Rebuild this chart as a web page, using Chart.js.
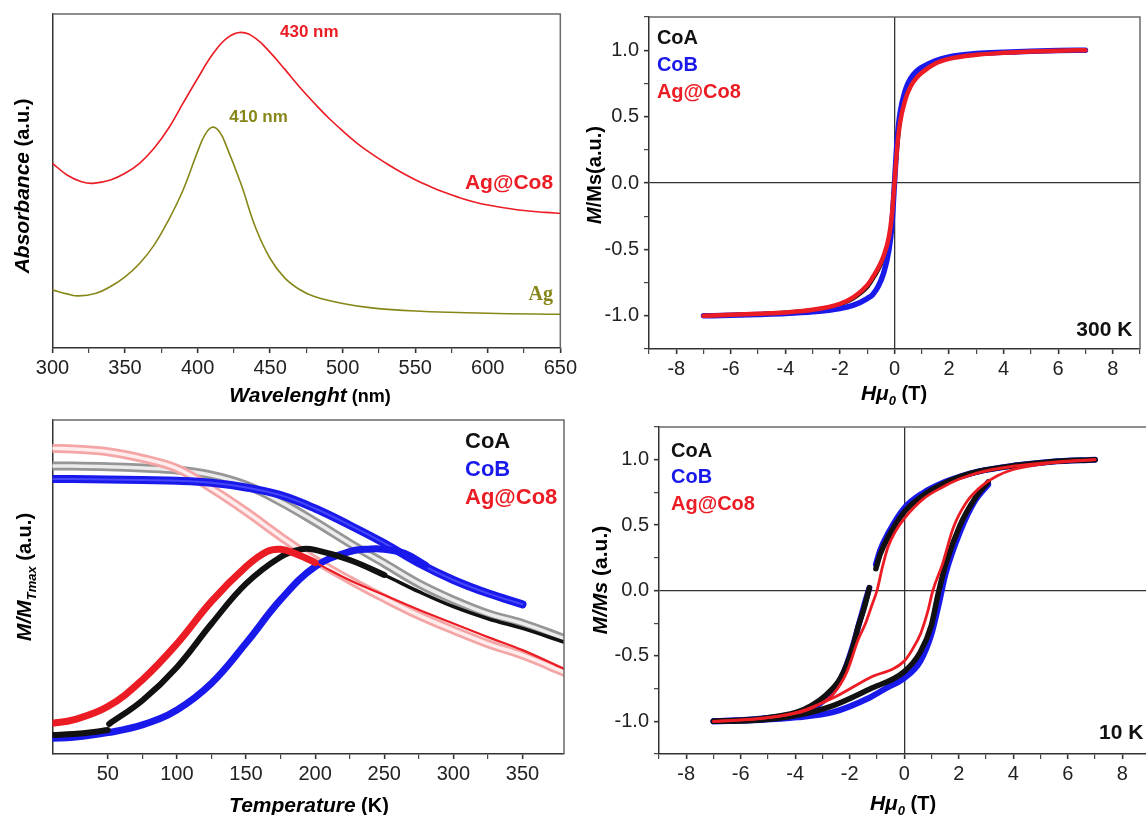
<!DOCTYPE html>
<html><head><meta charset="utf-8">
<script src="https://cdn.jsdelivr.net/npm/chart.js@4.4.1/dist/chart.umd.min.js"></script>
<style>
html,body{margin:0;padding:0;background:#fff;overflow:hidden;width:1146px;height:815px;position:relative;}
.p{position:absolute;}
canvas{display:block;}
</style></head><body>
<div class="p" style="left:0;top:0;width:580px;height:410px"><canvas id="c1" width="580" height="410"></canvas></div>
<div class="p" style="left:580px;top:0;width:566px;height:410px"><canvas id="c2" width="566" height="410"></canvas></div>
<div class="p" style="left:0;top:410px;width:580px;height:405px"><canvas id="c3" width="580" height="405"></canvas></div>
<div class="p" style="left:580px;top:410px;width:580px;height:405px"><canvas id="c4" width="580" height="405"></canvas></div>
<script>
// ================= DATA =================
// Panel 1: UV-Vis absorbance (arbitrary units)
const wlAgCo8 = [300,310,320,328,340,350,360,370,380,390,400,410,420,430,440,450,460,470,480,490,500,510,520,530,540,550,560,570,580,590,600,620,640,650];
const absAgCo8 = [0.553,0.518,0.498,0.493,0.503,0.523,0.553,0.598,0.658,0.733,0.807,0.877,0.927,0.945,0.927,0.885,0.835,0.783,0.735,0.69,0.65,0.613,0.581,0.553,0.527,0.504,0.484,0.466,0.451,0.438,0.428,0.414,0.406,0.403];
const wlAg = [300,310,318,330,340,350,360,370,380,390,400,405,410,415,420,430,440,450,460,470,480,500,520,550,600,650];
const absAg = [0.174,0.162,0.156,0.164,0.184,0.213,0.253,0.308,0.383,0.473,0.588,0.638,0.661,0.648,0.603,0.49,0.36,0.268,0.21,0.176,0.155,0.133,0.12,0.111,0.104,0.101];

// Panel 2: M/Ms vs field at 300 K
const h300 = [-7,-6,-5,-4,-3,-2,-1.5,-1,-0.8,-0.6,-0.4,-0.2,-0.1,0,0.1,0.2,0.4,0.6,0.8,1,1.5,2,3,4,5,6,7];
const m300AgCo8 = [-1.0,-0.993,-0.985,-0.975,-0.955,-0.91,-0.86,-0.77,-0.71,-0.64,-0.55,-0.4,-0.25,0,0.27,0.45,0.63,0.73,0.79,0.83,0.9,0.935,0.965,0.98,0.99,0.996,1.0];
const m300CoB = [-1.0,-0.996,-0.99,-0.983,-0.97,-0.945,-0.92,-0.87,-0.84,-0.78,-0.68,-0.5,-0.33,0,0.33,0.52,0.7,0.79,0.84,0.87,0.92,0.95,0.975,0.985,0.992,0.997,1.0];
const m300CoA = [-1.0,-0.994,-0.986,-0.976,-0.957,-0.915,-0.868,-0.785,-0.725,-0.655,-0.565,-0.42,-0.27,0,0.28,0.47,0.65,0.75,0.805,0.845,0.905,0.94,0.968,0.981,0.991,0.996,1.0];

// Panel 3: ZFC / FC magnetisation vs temperature (normalised, a.u.)
const tFC = [10,25,50,75,100,125,150,175,200,225,250,275,300,325,350,380];
const fcAgCo8 = [0.915,0.913,0.905,0.885,0.855,0.795,0.726,0.651,0.581,0.521,0.466,0.415,0.371,0.33,0.296,0.245];
const fcCoA = [0.862,0.862,0.860,0.856,0.850,0.835,0.805,0.755,0.695,0.631,0.571,0.51,0.461,0.42,0.391,0.346];
const tFCCoB = [10,25,50,75,100,125,150,175,200,225,250,275,300,325,350];
const fcCoB = [0.823,0.823,0.822,0.820,0.818,0.812,0.798,0.775,0.735,0.685,0.631,0.571,0.521,0.481,0.448];
const tZfcAgCo8 = [10,25,50,75,100,125,150,165,175,185,200,225,250,275,300,325,350,380];
const zfcAgCo8 = [0.092,0.102,0.142,0.222,0.33,0.457,0.561,0.606,0.613,0.601,0.573,0.52,0.476,0.432,0.391,0.35,0.311,0.255];
const tZfcCoA1 = [10,25,40,50];
const zfcCoA1 = [0.057,0.06,0.066,0.072];
const tZfcCoA2 = [51,75,100,125,150,175,190,200,225,250,275,300,325,350,380];
const zfcCoA2 = [0.09,0.16,0.26,0.39,0.51,0.59,0.613,0.611,0.581,0.536,0.486,0.441,0.405,0.376,0.335];
const tZfcCoB = [10,25,50,75,100,125,150,175,200,225,240,250,265,280];
const zfcCoB = [0.047,0.05,0.064,0.087,0.132,0.212,0.332,0.462,0.561,0.606,0.614,0.613,0.6,0.565];

// Panel 4: hysteresis loops at 10 K (branches listed with increasing field)
const hRedUp = [-7,-5.4,-4,-3.3,-2.6,-2.1,-1.7,-1.4,-1.2,-1.0,-0.8,-0.6,-0.3,0,0.7,1.4,2.0,2.7,4.0,5.4,7];
const mRedUp = [-1.0,-0.98,-0.94,-0.89,-0.79,-0.62,-0.38,-0.24,-0.12,0.0,0.18,0.33,0.46,0.55,0.70,0.79,0.85,0.9,0.95,0.98,1.0];
const hRedLow = [-7,-6.3,-5.3,-3.9,-2.6,-1.3,0,0.3,0.6,0.85,1.05,1.4,1.8,2.3,2.85,3.4,4.0,5.4,7];
const mRedLow = [-1.0,-0.995,-0.98,-0.93,-0.82,-0.67,-0.54,-0.45,-0.33,-0.17,0.0,0.2,0.48,0.68,0.8,0.875,0.925,0.975,1.0];
const hCoAUpA = [-1.04,-0.88,-0.61,0,0.72,1.38,2.05,2.72,4.05,5.4,7];
const mCoAUpA = [0.167,0.28,0.40,0.6,0.73,0.81,0.87,0.91,0.955,0.985,1.0];
const hCoAUpB = [-7,-5.27,-3.94,-3.41,-2.88,-2.34,-1.94,-1.68,-1.48,-1.28];
const mCoAUpB = [-1.0,-0.98,-0.93,-0.88,-0.8,-0.67,-0.47,-0.27,-0.14,0.02];
const hCoALow = [-7,-5.27,-3.94,-2.61,-1.28,0,0.59,0.99,1.25,1.52,2.05,2.58,3.08];
const mCoALow = [-1.0,-0.99,-0.955,-0.88,-0.755,-0.62,-0.47,-0.27,-0.02,0.2,0.5,0.7,0.83];
const hCoBUpA = [-1.04,-0.88,-0.61,0,0.72,1.38,2.05,2.72,4.05,5.4,7];
const mCoBUpA = [0.2,0.31,0.43,0.63,0.75,0.82,0.87,0.91,0.955,0.985,1.0];
const hCoBUpB = [-7,-5.3,-3.67,-3.14,-2.61,-2.21,-1.88,-1.68,-1.48,-1.28];
const mCoBUpB = [-1.0,-0.98,-0.93,-0.87,-0.77,-0.62,-0.42,-0.27,-0.12,0.02];
const hCoBLow = [-7,-5.3,-3.94,-2.61,-1.28,-0.61,0,0.59,0.99,1.25,1.52,2.05,2.58,3.08];
const mCoBLow = [-1.0,-0.99,-0.97,-0.93,-0.82,-0.74,-0.67,-0.54,-0.34,-0.12,0.13,0.45,0.68,0.81];

// Text
const legendNames = ['CoA','CoB','Ag@Co8'];
const uvLabels = ['430 nm','410 nm','Ag@Co8','Ag'];
const tempLabels = ['300 K','10 K'];
const p1XTitle = ['Wavelenght',' (nm)'];
const p1YTitle = ['Absorbance',' (a.u.)'];
const hTitle = ['H','\u03bc','0',' (T)'];
const p2YTitle = ['M','/Ms(a.u.)'];
const p3XTitle = ['Temperature',' (K)'];
const p3YTitle = ['M/M','Tmax',' (a.u.)'];
const p4YTitle = ['M/Ms',' (a.u.)'];

// ================= STYLE / HELPERS =================
const FONT = "'Liberation Sans', Arial, Helvetica, sans-serif";
const SERIF = "'Liberation Serif', 'Times New Roman', serif";
const RED = 'rgb(236,28,36)', BLUE = 'rgb(25,25,235)', BLACK = '#111', OLIVE = 'rgb(135,135,25)';
const SMOOTH = {cubicInterpolationMode:'default', tension:0.4};

function pts(xs, ys){ return xs.map((x,i)=>({x:x, y:ys[i]})); }
function line(xs, ys, color, width, extra){
  return Object.assign({data:pts(xs,ys), borderColor:color, borderWidth:width, pointRadius:0,
    fill:false, cubicInterpolationMode:'monotone', borderCapStyle:'round', borderJoinStyle:'round'}, extra||{});
}
function f(style, size, fam){ return style + ' ' + size + 'px ' + (fam||FONT); }

function axis(o){
  const major = o.major, minor = o.step;
  const isMaj = v => Math.abs(v/major - Math.round(v/major)) < 1e-6;
  const isMin = v => Math.abs(v/minor - Math.round(v/minor)) < 1e-6;
  return {
    type:'linear', min:o.min, max:o.max,
    afterFit: s => { if (s.isHorizontal()) s.height = o.size; else s.width = o.size; },
    border:{display:true, color:'#333', width:1.5},
    grid:{display: o.ticks!==false, drawOnChartArea: !!o.zero, drawTicks:true, tickLength:5,
      color: c => (o.zero && c.tick && Math.abs(c.tick.value) < 1e-9) ? '#333' : 'rgba(0,0,0,0)',
      lineWidth: 1.3,
      tickColor: c => (c.tick && isMin(c.tick.value)) ? '#333' : 'rgba(0,0,0,0)',
      tickWidth: c => (c.tick && isMaj(c.tick.value)) ? 1.6 : 1.1},
    ticks: o.ticks===false ? {display:false} : {display:true, stepSize:o.step, autoSkip:false, maxRotation:0, minRotation:0,
      padding:o.pad, color:'#222', font:{family:FONT, size:20},
      callback: v => isMaj(v) ? (o.fmt ? o.fmt(v) : String(v)) : ''}
  };
}

function drawRich(ctx, parts, cx, cy, rot){
  let w = 0;
  parts.forEach(p => { ctx.font = p.font; w += ctx.measureText(p.text).width; });
  ctx.save(); ctx.translate(cx, cy); if (rot) ctx.rotate(-Math.PI/2);
  ctx.textBaseline = 'alphabetic'; ctx.textAlign = 'left';
  let x = -w/2;
  parts.forEach(p => { ctx.font = p.font; ctx.fillStyle = p.color || '#000';
    ctx.fillText(p.text, x, 7 + (p.dy||0)); x += ctx.measureText(p.text).width; });
  ctx.restore();
}

const deco = {
  id:'deco',
  afterDraw(chart, args, opts){
    const ctx = chart.ctx, a = chart.chartArea;
    ctx.save();
    ctx.strokeStyle = '#6a6a6a'; ctx.lineWidth = 1.5;
    ctx.beginPath(); ctx.moveTo(a.left, a.top); ctx.lineTo(a.right, a.top); ctx.lineTo(a.right, a.bottom); ctx.stroke();
    (opts.texts||[]).forEach(t => {
      const x = chart.scales.x.getPixelForValue(t.x), y = chart.scales.y.getPixelForValue(t.y);
      ctx.font = t.font; ctx.fillStyle = t.color; ctx.textAlign = t.align || 'left'; ctx.textBaseline = 'middle';
      ctx.fillText(t.text, x, y);
    });
    (opts.titles||[]).forEach(t => drawRich(ctx, t.parts, t.x, t.y, t.rot));
    ctx.restore();
  }
};
Chart.register(deco);
Chart.defaults.font.family = FONT;

function baseOpts(pad, scales, decoOpts){
  return {responsive:false, maintainAspectRatio:false, animation:false, events:[],
    layout:{padding:pad},
    plugins:{legend:{display:false}, tooltip:{enabled:false}, deco:decoOpts},
    scales:scales};
}

// ================= PANEL 1 =================
new Chart(document.getElementById('c1'), {
  type:'line',
  data:{datasets:[
    line(wlAgCo8, absAgCo8, RED, 1.6, SMOOTH),
    line(wlAg, absAg, OLIVE, 1.6, SMOOTH)
  ]},
  options: baseOpts({left:0, top:14, right:16, bottom:0}, {
    x: axis({min:300, max:650, step:25, major:50, size:62, pad:3}),
    y: axis({min:0, max:1, step:0.5, major:0.5, size:52.5, ticks:false})
  }, {
    texts:[
      {text:uvLabels[0], x:477, y:0.946, font:f('bold',17), color:RED, align:'center'},
      {text:uvLabels[1], x:442, y:0.69, font:f('bold',17), color:OLIVE, align:'center'},
      {text:uvLabels[2], x:645, y:0.494, font:f('bold',21), color:RED, align:'right'},
      {text:uvLabels[3], x:645, y:0.159, font:f('bold',20,SERIF), color:OLIVE, align:'right'}
    ],
    titles:[
      {parts:[{text:p1XTitle[0], font:f('italic bold',21)},{text:p1XTitle[1], font:f('bold',18)}], x:310, y:395},
      {parts:[{text:p1YTitle[0], font:f('italic bold',21)},{text:p1YTitle[1], font:f('bold',20)}], x:22, y:186, rot:true}
    ]
  })
});

// ================= PANEL 2 =================
const yFmt = v => v.toFixed(1);
function legendTexts(xv, ys, align){
  const cols = [BLACK, BLUE, RED];
  return legendNames.map((n,i) => ({text:n, x:xv, y:ys[i], font:f('bold',20), color:cols[i], align:align||'left'}));
}
new Chart(document.getElementById('c2'), {
  type:'line',
  data:{datasets:[
    line(h300, m300AgCo8, RED, 4.5),
    line(h300, m300CoB, BLUE, 5.5),
    line(h300, m300CoA, BLACK, 4)
  ]},
  options: baseOpts({left:0, top:13, right:6, bottom:0}, {
    x: axis({min:-9, max:9, step:1, major:2, size:61, pad:3, zero:true}),
    y: axis({min:-1.25, max:1.25, step:0.25, major:0.5, size:69, pad:5, zero:true, fmt:yFmt})
  }, {
    texts: legendTexts(-8.71, [1.085, 0.883, 0.681]).concat([
      {text:tempLabels[0], x:8.72, y:-1.108, font:f('bold',21), color:'#111', align:'right'}
    ]),
    titles:[
      {parts:[{text:hTitle[0], font:f('italic bold',21)},{text:hTitle[1], font:f('italic bold',21)},
              {text:hTitle[2], font:f('italic bold',13), dy:5},{text:hTitle[3], font:f('bold',20)}], x:314, y:393},
      {parts:[{text:p2YTitle[0], font:f('italic bold',20)},{text:p2YTitle[1], font:f('bold',20)}], x:14, y:175, rot:true}
    ]
  })
});

// ================= PANEL 3 =================
function band(xs, ys, outer, ow, inner, iw){
  return [line(xs, ys, inner, iw, SMOOTH), line(xs, ys, outer, ow, SMOOTH)];
}
new Chart(document.getElementById('c3'), {
  type:'line',
  data:{datasets:[].concat(
    [line(tZfcAgCo8, zfcAgCo8, RED, 7, Object.assign({segment:{borderWidth: c => c.p0.parsed.x >= 188 ? 2.2 : 7}}, SMOOTH))],
    [line(tZfcCoA1, zfcCoA1, BLACK, 6, SMOOTH)],
    [line(tZfcCoA2, zfcCoA2, BLACK, 6, Object.assign({segment:{borderWidth: c => c.p0.parsed.x >= 230 ? 3.5 : 6}}, SMOOTH))],
    [line(tZfcCoB, zfcCoB, BLUE, 7, SMOOTH)],
    band(tFCCoB, fcCoB, BLUE, 8, 'rgb(70,70,250)', 2),
    band(tFC, fcAgCo8, 'rgb(244,165,165)', 9, 'rgb(255,236,236)', 3.5),
    band(tFC, fcCoA, 'rgb(150,150,150)', 9, 'rgb(236,236,236)', 3.5)
  )},
  options: baseOpts({left:0, top:10, right:16, bottom:0}, {
    x: axis({min:10, max:380, step:25, major:50, size:61, pad:3}),
    y: axis({min:0, max:1, step:0.5, major:0.5, size:52.5, ticks:false})
  }, {
    texts: legendTexts(308.4, [0.934, 0.850, 0.766]).map(t => Object.assign(t, {font:f('bold',22)})),
    titles:[
      {parts:[{text:p3XTitle[0], font:f('italic bold',21)},{text:p3XTitle[1], font:f('bold',20)}], x:309, y:395},
      {parts:[{text:p3YTitle[0], font:f('italic bold',21)},{text:p3YTitle[1], font:f('italic bold',13), dy:5},
              {text:p3YTitle[2], font:f('bold',20)}], x:24, y:167, rot:true}
    ]
  })
});

// ================= PANEL 4 =================
new Chart(document.getElementById('c4'), {
  type:'line',
  data:{datasets:[
    line(hRedUp, mRedUp, RED, 2.8),
    line(hRedLow, mRedLow, RED, 2.8),
    line(hCoAUpA, mCoAUpA, BLACK, 5.5),
    line(hCoAUpB, mCoAUpB, BLACK, 5.5),
    line(hCoALow, mCoALow, BLACK, 5.5),
    line(hCoBUpA, mCoBUpA, BLUE, 6),
    line(hCoBUpB, mCoBUpB, BLUE, 6),
    line(hCoBLow, mCoBLow, BLUE, 6)
  ]},
  options: baseOpts({left:0, top:10, right:10.5, bottom:0}, {
    x: axis({min:-9, max:9, step:1, major:2, size:61, pad:3, zero:true}),
    y: axis({min:-1.25, max:1.25, step:0.25, major:0.5, size:79, pad:5, zero:true, fmt:yFmt})
  }, {
    texts: legendTexts(-8.56, [1.063, 0.861, 0.659]).concat([
      {text:tempLabels[1], x:7.15, y:-1.093, font:f('bold',21), color:'#111', align:'left'}
    ]),
    titles:[
      {parts:[{text:hTitle[0], font:f('italic bold',21)},{text:hTitle[1], font:f('italic bold',21)},
              {text:hTitle[2], font:f('italic bold',13), dy:5},{text:hTitle[3], font:f('bold',20)}], x:323, y:393},
      {parts:[{text:p4YTitle[0], font:f('italic bold',21)},{text:p4YTitle[1], font:f('bold',21)}], x:20, y:170, rot:true}
    ]
  })
});
</script>
</body></html>
